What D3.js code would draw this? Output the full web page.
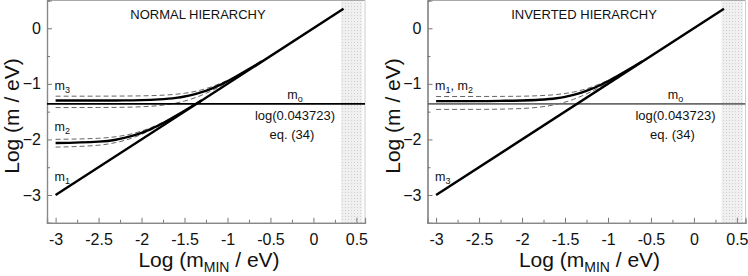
<!DOCTYPE html>
<html lang="en">
<head>
<meta charset="UTF-8">
<title>Neutrino masses vs m_MIN</title>
<style>
  body { margin: 0; background: #fff; }
  text { font-family: "Liberation Sans", Arial, sans-serif; fill: #111; }
</style>
</head>
<body>
<svg id="chart" width="748" height="276"></svg>
<script src="https://cdn.jsdelivr.net/npm/d3@7"></script>
<script>

// tick values
var xMajor = [-3, -2.5, -2, -1.5, -1, -0.5, 0, 0.5];
var xMinor = [-2.75, -2.25, -1.75, -1.25, -0.75, -0.25, 0.25];
var yMajor = [0, -1, -2, -3];
var yMinor = [0.5, -0.5, -1.5, -2.5];
var xTickLabels = ["-3", "-2.5", "-2", "-1.5", "-1", "-0.5", "0", "0.5"];

// diagonal (lightest mass = m_MIN)
var diagX = [-3, 0.35];
var diagY = [-3, 0.35];

// horizontal reference line log(0.043723)
var m0Level = -1.3593;

// excluded band
var band = [0.32, 0.57];

// normal hierarchy
var xHeavy = [-3, -2.5, -2.2, -2, -1.8, -1.6, -1.5, -1.4, -1.3, -1.2, -1.1, -1.0, -0.9, -0.8, -0.7, -0.6];
var m3Normal = [-1.30, -1.30, -1.297, -1.293, -1.280, -1.252, -1.228, -1.194, -1.150, -1.094, -1.028, -0.952, -0.868, -0.779, -0.687, -0.594];
var xBand = [-3, -2.5, -2.2, -2, -1.8, -1.6, -1.5, -1.4, -1.3, -1.2, -1.1, -1.0];
var m3NormalHi = [-1.222, -1.221, -1.219, -1.216, -1.207, -1.187, -1.169, -1.143, -1.107, -1.060, -1.002, -0.933];
var m3NormalLo = [-1.427, -1.425, -1.421, -1.412, -1.391, -1.346, -1.310, -1.262, -1.204, -1.135, -1.057, -0.972];

var xLight = [-3, -2.5, -2.3, -2.2, -2.1, -2.0, -1.9, -1.8, -1.7, -1.6, -1.5, -1.4, -1.3];
var m2Normal = [-2.065, -2.04, -2.005, -1.972, -1.932, -1.880, -1.818, -1.745, -1.663, -1.576, -1.485, -1.391, -1.297];
var xLightBand = [-3, -2.5, -2.3, -2.2, -2.1, -2.0, -1.9, -1.8, -1.7, -1.6];
var m2NormalHi = [-1.998, -1.979, -1.951, -1.927, -1.894, -1.849, -1.794, -1.727, -1.651, -1.568];
var m2NormalLo = [-2.138, -2.104, -2.056, -2.019, -1.969, -1.909, -1.838, -1.759, -1.673, -1.583];

// inverted hierarchy
var m12Inverted = [-1.31, -1.31, -1.305, -1.30, -1.287, -1.258, -1.233, -1.198, -1.153, -1.096, -1.029, -0.953, -0.868, -0.779, -0.687, -0.594];
var m12InvertedHi = [-1.228, -1.227, -1.225, -1.222, -1.213, -1.192, -1.173, -1.147, -1.110, -1.063, -1.004, -0.935];
var m12InvertedLo = [-1.460, -1.459, -1.453, -1.443, -1.419, -1.369, -1.329, -1.278, -1.215, -1.143, -1.062, -0.975];

var svg = d3.select("#chart");

// pattern for the shaded band
var defs = svg.append("defs");
var pat = defs.append("pattern")
  .attr("id", "dots").attr("width", 3).attr("height", 3)
  .attr("patternUnits", "userSpaceOnUse");
pat.append("rect").attr("width", 3).attr("height", 3).attr("fill", "#f0f0f0");
pat.append("rect").attr("width", 1).attr("height", 1).attr("fill", "#cfcfcf");

var yScale = d3.scaleLinear().domain([-3.5, 0.5]).range([222.8, 0.5]);

function drawPanel(p) {
  var x = d3.scaleLinear().domain([-3.1, 0.6]).range([p.left, p.left + 318]);
  var y = yScale;
  var g = svg.append("g");
  var clipId = "clip" + p.id;

  defs.append("clipPath").attr("id", clipId)
    .append("rect")
    .attr("x", x(-3.1)).attr("y", y(0.5))
    .attr("width", x(0.6) - x(-3.1)).attr("height", y(-3.5) - y(0.5));

  // shaded band
  g.append("rect")
    .attr("x", x(band[0])).attr("y", y(0.5))
    .attr("width", x(band[1]) - x(band[0]))
    .attr("height", y(-3.5) - y(0.5))
    .attr("fill", "url(#dots)");

  // frame
  g.append("line").attr("x1", x(-3.1)).attr("x2", x(0.6)).attr("y1", y(0.5)).attr("y2", y(0.5))
    .attr("stroke", "#aaa").attr("stroke-width", 1);
  g.append("line").attr("x1", x(0.6)).attr("x2", x(0.6)).attr("y1", y(0.5)).attr("y2", y(-3.5))
    .attr("stroke", "#ccc").attr("stroke-width", 1);

  // axes with inward ticks
  var xAxis = d3.axisBottom(x).tickValues(xMajor).tickSize(-5).tickPadding(11)
    .tickFormat(function (d, i) { return xTickLabels[i]; });
  var gx = g.append("g").attr("transform", "translate(0," + y(-3.5) + ")").call(xAxis);
  gx.selectAll(".tick text").attr("dy", 0).attr("y", 22);
  var gxm = g.append("g").attr("transform", "translate(0," + y(-3.5) + ")")
    .call(d3.axisBottom(x).tickValues(xMinor).tickSize(-3).tickFormat(""));

  var yAxis = d3.axisLeft(y).tickValues(yMajor).tickSize(-5).tickPadding(6)
    .tickFormat(d3.format("d"));
  var gy = g.append("g").attr("transform", "translate(" + x(-3.1) + ",0)").call(yAxis);
  var gym = g.append("g").attr("transform", "translate(" + x(-3.1) + ",0)")
    .call(d3.axisLeft(y).tickValues(yMinor).tickSize(-3).tickFormat(""));

  [gx, gxm, gy, gym].forEach(function (a) {
    a.select(".domain").attr("stroke", "#888").attr("stroke-width", 1.2);
    a.selectAll(".tick line").attr("stroke", "#777");
    a.selectAll(".tick text").attr("font-size", 16).attr("fill", "#111")
      .attr("font-family", "'Liberation Sans', Arial, sans-serif");
  });
  gx.selectAll(".tick text").attr("text-anchor", "middle");

  // axis titles
  g.append("text")
    .attr("transform", "translate(" + (p.left - 28) + "," + 116 + ") rotate(-90)")
    .attr("text-anchor", "middle").attr("font-size", 21)
    .text("Log (m / eV)");
  var xt = g.append("text")
    .attr("x", p.left + 162).attr("y", 267)
    .attr("text-anchor", "middle").attr("font-size", 21);
  xt.append("tspan").text("Log (m");
  xt.append("tspan").attr("font-size", 14).attr("dy", 5).text("MIN");
  xt.append("tspan").attr("dy", -5).text(" / eV)");

  // panel title
  g.append("text").attr("x", p.titleX).attr("y", 18.5)
    .attr("text-anchor", "middle").attr("font-size", 13).text(p.title);

  var lines = g.append("g").attr("clip-path", "url(#" + clipId + ")");
  var line = d3.line().x(function (d) { return x(d[0]); }).y(function (d) { return y(d[1]); })
    .curve(d3.curveMonotoneX);

  // dashed uncertainty bands
  p.dashed.forEach(function (s) {
    lines.append("path")
      .attr("d", line(d3.zip(s.x, s.y)))
      .attr("fill", "none").attr("stroke", "#666").attr("stroke-width", 1)
      .attr("stroke-dasharray", "5,3");
  });

  // m0 level
  lines.append("line")
    .attr("x1", x(-3.1)).attr("x2", x(0.6))
    .attr("y1", y(m0Level)).attr("y2", y(m0Level))
    .attr("stroke", p.m0Color).attr("stroke-width", 1.6);

  // thick curves
  p.thick.forEach(function (s) {
    lines.append("path")
      .attr("d", line(d3.zip(s.x, s.y)))
      .attr("fill", "none").attr("stroke", "#000").attr("stroke-width", 2.4);
  });
  lines.append("path")
    .attr("d", line(d3.zip(diagX, diagY)))
    .attr("fill", "none").attr("stroke", "#000").attr("stroke-width", 2.4);

  // curve labels
  p.labels.forEach(function (l) {
    var t = g.append("text").attr("x", x(-3) - 1).attr("y", l.y).attr("font-size", 12.5);
    l.parts.forEach(function (part) {
      t.append("tspan").text(part[0]);
      t.append("tspan").attr("font-size", 9).attr("dy", 3).text(part[1]);
      if (part[2]) t.append("tspan").attr("dy", -3).text(part[2]);
    });
  });

  // m0 annotation
  var cx = p.left + 248;
  var m0t = g.append("text").attr("x", cx).attr("y", 99).attr("text-anchor", "middle").attr("font-size", 12.5);
  m0t.append("tspan").text("m");
  m0t.append("tspan").attr("font-size", 9).attr("dy", 3).text("o");
  g.append("text").attr("x", cx).attr("y", 119.5).attr("text-anchor", "middle").attr("font-size", 13)
    .text("log(0.043723)");
  g.append("text").attr("x", cx - 3).attr("y", 139).attr("text-anchor", "middle").attr("font-size", 13)
    .text("eq. (34)");
}

drawPanel({
  id: "L", left: 47, title: "NORMAL HIERARCHY", titleX: 198, m0Color: "#000",
  thick: [{ x: xHeavy, y: m3Normal }, { x: xLight, y: m2Normal }],
  dashed: [{ x: xBand, y: m3NormalHi }, { x: xBand, y: m3NormalLo },
           { x: xLightBand, y: m2NormalHi }, { x: xLightBand, y: m2NormalLo }],
  labels: [
    { y: 89.5, parts: [["m", "3"]] },
    { y: 130.5, parts: [["m", "2"]] },
    { y: 181, parts: [["m", "1"]] }
  ]
});

drawPanel({
  id: "R", left: 427.5, title: "INVERTED HIERARCHY", titleX: 584, m0Color: "#6a6a6a",
  thick: [{ x: xHeavy, y: m12Inverted }],
  dashed: [{ x: xBand, y: m12InvertedHi }, { x: xBand, y: m12InvertedLo }],
  labels: [
    { y: 90, parts: [["m", "1", ", m"], ["", "2"]] },
    { y: 181, parts: [["m", "3"]] }
  ]
});

</script>
</body>
</html>
